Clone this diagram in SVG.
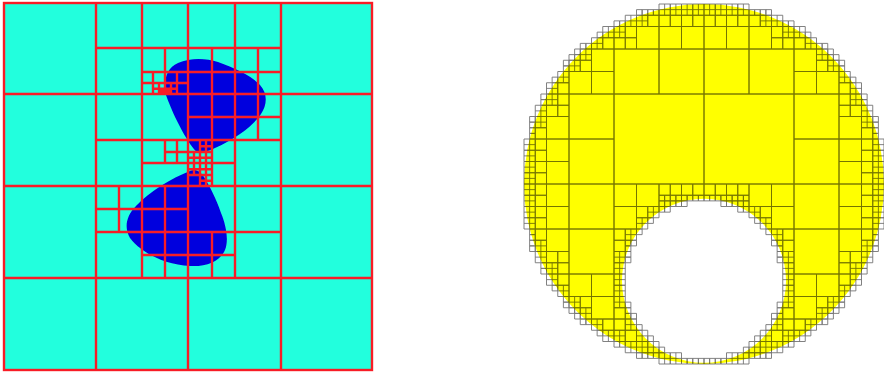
<svg xmlns="http://www.w3.org/2000/svg" width="884" height="372" viewBox="0 0 884 372">
<style>
.red{fill:none;stroke:#f81e28;stroke-width:2.4}
.q{fill:none;stroke:#000;stroke-width:0.9;vector-effect:non-scaling-stroke}
</style>
<defs>
<filter id="soft" x="0" y="0" width="884" height="372" filterUnits="userSpaceOnUse"><feGaussianBlur stdDeviation="0.45"/></filter>
<path id="band" class="q" d="M10 28h2v2h-2zM10 29h2M11 28v2M12 28h2v2h-2zM12 29h2M13 28v2M14 28h1v1h-1zM15 28h1v1h-1zM14 26h2v2h-2zM14 27h2M15 26v2M16 26h2v2h-2zM16 27h2M17 26v2M18 26h1v1h-1zM18 24h2v2h-2zM18 25h2M19 24v2M20 24h1v1h-1zM21 24h1v1h-1zM20 22h2v2h-2zM20 23h2M21 22v2M22 22h1v1h-1zM23 22h1v1h-1zM22 23h1v1h-1zM22 20h2v2h-2zM22 21h2M23 20v2M24 20h1v1h-1zM24 21h1v1h-1zM24 18h2v2h-2zM24 19h2M25 18v2M26 18h1v1h-1zM26 16h2v2h-2zM26 17h2M27 16v2M26 14h2v2h-2zM26 15h2M27 14v2M28 14h1v1h-1zM28 15h1v1h-1zM28 12h2v2h-2zM28 13h2M29 12v2M28 10h2v2h-2zM28 11h2M29 10v2M30 10h1v1h-1zM30 11h1v1h-1zM30 8h1v1h-1zM30 9h1v1h-1zM30 6h2v2h-2zM30 7h2M31 6v2M30 4h2v2h-2zM30 5h2M31 4v2M30 2h2v2h-2zM30 3h2M31 2v2M30 0h2v2h-2zM30 1h2M31 0v2M28 0h2v2h-2zM28 2h2v2h-2zM28 4h2v2h-2zM28 6h2v2h-2zM28 8h2v2h-2zM24 12h2v2h-2zM26 12h2v2h-2zM24 14h2v2h-2zM24 16h2v2h-2zM20 20h2v2h-2zM16 24h2v2h-2zM14 24h2v2h-2zM12 26h2v2h-2zM24 0h4v4h-4zM24 4h4v4h-4zM24 8h4v4h-4zM16 16h4v4h-4zM20 16h4v4h-4zM16 20h4v4h-4zM16 0h8v8h-8zM16 8h8v8h-8z"/>
<path id="upper" class="q" d="M0 30h2v2h-2zM0 31h2M1 30v2M2 30h2v2h-2zM2 31h2M3 30v2M4 30h2v2h-2zM4 31h2M5 30v2M6 30h2v2h-2zM6 31h2M7 30v2M8 30h1v1h-1zM9 30h1v1h-1zM10 30h1v1h-1zM11 30h1v1h-1zM0 28h2v2h-2zM2 28h2v2h-2zM4 28h2v2h-2zM6 28h2v2h-2zM8 28h2v2h-2zM12 24h2v2h-2zM0 24h4v4h-4zM4 24h4v4h-4zM8 24h4v4h-4zM0 16h8v8h-8zM8 16h8v8h-8zM0 0h16v16h-16z"/>
<path id="lower" class="q" d="M0 0h2v2h-2zM2 0h2v2h-2zM4 0h2v2h-2zM6 0h2v2h-2zM10 4h2v2h-2zM14 8h2v2h-2zM14 10h2v2h-2zM14 22h2v2h-2zM8 0h4v4h-4zM12 0h4v4h-4zM12 4h4v4h-4zM0 2h1v1h-1zM1 2h1v1h-1zM2 2h1v1h-1zM3 2h1v1h-1zM4 2h1v1h-1zM5 2h1v1h-1zM6 2h1v1h-1zM7 2h1v1h-1zM3 3h1v1h-1zM4 3h1v1h-1zM5 3h1v1h-1zM6 3h1v1h-1zM7 3h1v1h-1zM6 4h1v1h-1zM7 4h1v1h-1zM8 4h2v2h-2zM8 5h2M9 4v2M9 6h1v1h-1zM10 6h2v2h-2zM10 7h2M11 6v2M11 8h1v1h-1zM12 8h2v2h-2zM12 9h2M13 8v2M12 10h1v1h-1zM13 10h1v1h-1zM13 11h1v1h-1zM13 12h1v1h-1zM13 13h1v1h-1zM14 12h2v2h-2zM14 13h2M15 12v2M14 14h2v2h-2zM14 15h2M15 14v2M14 16h2v2h-2zM14 17h2M15 16v2M14 18h2v2h-2zM14 19h2M15 18v2M13 21h1v1h-1zM14 20h2v2h-2zM14 21h2M15 20v2M13 22h1v1h-1zM12 23h1v1h-1zM13 23h1v1h-1zM11 25h1v1h-1zM12 24h2v2h-2zM12 25h2M13 24v2M9 27h1v1h-1zM10 26h2v2h-2zM10 27h2M11 26v2M7 29h1v1h-1zM8 28h2v2h-2zM8 29h2M9 28v2M0 31h1v1h-1zM1 31h1v1h-1zM2 31h1v1h-1zM3 31h1v1h-1zM4 30h2v2h-2zM4 31h2M5 30v2M6 30h2v2h-2zM6 31h2M7 30v2M8 30h1v1h-1zM9 30h1v1h-1zM10 30h1v1h-1zM11 30h1v1h-1z"/>
</defs>
<rect width="884" height="372" fill="#fff"/>
<g id="left-panel" filter="url(#soft)">
<rect x="4" y="3" width="368" height="367" fill="#22ffdd"/>
<path fill="#0000de" d="M197 152C190 147 174 118 166 95C163 82 166 68 178 63C190 58 205 58 218 62C235 68 252 76 260 85C268 94 267 105 261 114C252 127 235 139 215 148C207 152 202 153 197 152Z"/>
<path fill="#0000de" d="M190 171C172 178 150 191 136 206C126 216 124 228 130 238C140 252 165 265 190 266C205 267 220 262 225 250C229 240 226 225 221 213C216 198 210 187 204 177C199 170 195 169 190 171Z"/>
<rect class="red" x="4" y="3" width="368" height="367"/>
<path class="red" d="M96 3V370M188 3V370M281 3V370M142 3V278M235 3V278M165 48V94M212 48V186.5M258 48V140M165 140V163M177 140V163M119 186V232M165 186V278M212 232V278M4 94H372M4 186H372M4 278H372M96 48H281M142 72H281M188 117H281M96 140H281M142 163H235M165 152H212M96 209H188M96 232H281M142 255H235"/>
<path class="red" stroke-width="2" d="M142 83H188M153 72V94M177 72V94M153 88.7H177M159 83V94M171 83V94"/>
<path class="red" stroke-width="1.5" d="M159 91.4H171M162 88.7V94M168 88.7V94M160.5 88.7V94M163.5 88.7V94M166.5 88.7V94M169.5 88.7V94M159 90H171M159 92.7H171"/>
<path class="red" stroke-width="2" d="M200 140.5V186.5M206 140.5V186.5M194 152V175M188 175H212M200 146.2H212M188 157.7H212M188 169.2H212M200 180.7H212"/>
</g>
<g id="right-panel" filter="url(#soft)">
<path fill="#ffff00" fill-rule="evenodd" d="M524 184A180 180 0 1 1 884 184A180 180 0 1 1 524 184ZM622 280.7A82 82 0 1 0 786 280.7A82 82 0 1 0 622 280.7Z"/>
<g opacity="0.55">
<use href="#band" transform="matrix(5.625 0 0 -5.625 704 184)"/>
<use href="#band" transform="matrix(-5.625 0 0 -5.625 704 184)"/>
<use href="#band" transform="matrix(5.625 0 0 5.625 704 184)"/>
<use href="#band" transform="matrix(-5.625 0 0 5.625 704 184)"/>
<use href="#upper" transform="matrix(5.625 0 0 -5.625 704 184)"/>
<use href="#upper" transform="matrix(-5.625 0 0 -5.625 704 184)"/>
<use href="#lower" transform="matrix(5.625 0 0 5.625 704 184)"/>
<use href="#lower" transform="matrix(-5.625 0 0 5.625 704 184)"/>
</g>
</g>
</svg>
